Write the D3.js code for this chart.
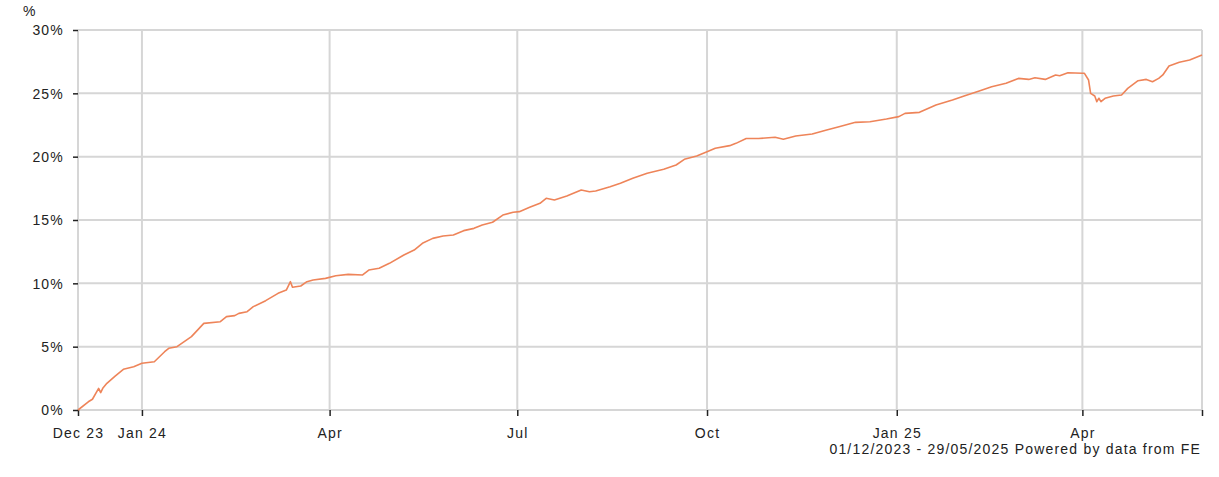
<!DOCTYPE html>
<html>
<head>
<meta charset="utf-8">
<script src="https://cdn.jsdelivr.net/npm/d3@7"></script>
<style>
  body { margin: 0; background: #fff; }
  text { font-family: "Liberation Sans", Arial, sans-serif; font-size: 14px; fill: #222; letter-spacing: 1.2px; }
</style>
</head>
<body>
<script>
// cumulative performance, %
var dates = ["2023-12-01","2023-12-06","2023-12-08","2023-12-11","2023-12-12","2023-12-13","2023-12-15","2023-12-19","2023-12-23","2023-12-28",
  "2024-01-01","2024-01-07","2024-01-12","2024-01-14","2024-01-18","2024-01-25","2024-01-31","2024-02-08","2024-02-11","2024-02-15",
  "2024-02-17","2024-02-21","2024-02-24","2024-03-01","2024-03-07","2024-03-11","2024-03-13","2024-03-14","2024-03-18","2024-03-21",
  "2024-03-24","2024-03-30","2024-04-04","2024-04-10","2024-04-17","2024-04-20","2024-04-25","2024-04-30","2024-05-07","2024-05-12",
  "2024-05-16","2024-05-21","2024-05-26","2024-05-31","2024-06-05","2024-06-10","2024-06-14","2024-06-19","2024-06-24","2024-06-29",
  "2024-07-02","2024-07-07","2024-07-12","2024-07-15","2024-07-19","2024-07-25","2024-08-01","2024-08-05","2024-08-08","2024-08-15",
  "2024-08-20","2024-08-26","2024-09-02","2024-09-10","2024-09-16","2024-09-20","2024-09-26","2024-10-01","2024-10-05","2024-10-12",
  "2024-10-15","2024-10-20","2024-10-26","2024-11-03","2024-11-07","2024-11-13","2024-11-21","2024-11-28","2024-12-04","2024-12-12",
  "2024-12-19","2024-12-27","2025-01-02","2025-01-05","2025-01-12","2025-01-20","2025-01-28","2025-02-03","2025-02-10","2025-02-16",
  "2025-02-23","2025-03-01","2025-03-06","2025-03-09","2025-03-14","2025-03-19","2025-03-21","2025-03-25","2025-04-01","2025-04-02",
  "2025-04-04","2025-04-05","2025-04-07","2025-04-08","2025-04-09","2025-04-10","2025-04-12","2025-04-16","2025-04-20","2025-04-23",
  "2025-04-28","2025-05-02","2025-05-05","2025-05-08","2025-05-10","2025-05-13","2025-05-18","2025-05-23","2025-05-29"];
var values = [0.0,0.65,0.85,1.71,1.37,1.71,2.11,2.68,3.21,3.42,
  3.69,3.81,4.60,4.87,5.00,5.79,6.84,6.97,7.37,7.45,
  7.63,7.76,8.16,8.63,9.21,9.47,10.13,9.69,9.79,10.13,
  10.26,10.39,10.60,10.71,10.66,11.05,11.19,11.58,12.24,12.63,
  13.16,13.55,13.74,13.82,14.16,14.34,14.61,14.82,15.39,15.61,
  15.66,16.00,16.32,16.71,16.58,16.89,17.37,17.23,17.29,17.63,
  17.90,18.29,18.69,19.00,19.34,19.79,20.05,20.39,20.66,20.87,
  21.05,21.43,21.43,21.53,21.37,21.63,21.79,22.10,22.37,22.71,
  22.76,22.97,23.16,23.42,23.50,24.08,24.47,24.81,25.18,25.52,
  25.79,26.18,26.10,26.23,26.10,26.45,26.39,26.63,26.58,26.58,
  26.05,25.00,24.79,24.34,24.61,24.34,24.61,24.79,24.87,25.39,
  26.00,26.10,25.92,26.18,26.45,27.16,27.45,27.63,28.03];

var xTickDates = ["2023-12-01","2024-01-01","2024-04-01","2024-07-01","2024-10-01","2025-01-01","2025-04-01","2025-05-29"];
var xTickLabels = ["Dec 23","Jan 24","Apr","Jul","Oct","Jan 25","Apr",""];
var yTicks = [0,5,10,15,20,25,30];
var footer = "01/12/2023 - 29/05/2025 Powered by data from FE";

var parse = d3.timeParse("%Y-%m-%d");
var data = dates.map(function(d,i){ return {date: parse(d), value: values[i]}; });
var tickDates = xTickDates.map(parse);

var plotLeft = 78, plotRight = 1202, plotTop = 30, plotBottom = 410;

var x = d3.scaleTime()
          .domain([parse("2023-12-01"), parse("2025-05-29")])
          .range([plotLeft, plotRight]);
var y = d3.scaleLinear().domain([0,30]).range([plotBottom, plotTop]);

var svg = d3.select("body").append("svg").attr("width",1219).attr("height",477);

// grid
svg.selectAll("line.hgrid")
    .data(yTicks)
    .enter().append("line")
      .attr("class","hgrid")
      .attr("x1",plotLeft).attr("x2",plotRight)
      .attr("y1",function(d){ return y(d); })
      .attr("y2",function(d){ return y(d); })
      .attr("stroke","#d6d6d6").attr("stroke-width",2);

svg.selectAll("line.vgrid")
    .data(tickDates)
    .enter().append("line")
      .attr("class","vgrid")
      .attr("x1",function(d){ return x(d); })
      .attr("x2",function(d){ return x(d); })
      .attr("y1",plotTop).attr("y2",plotBottom)
      .attr("stroke","#d6d6d6").attr("stroke-width",2);

// axes: ticks + labels only
var yAxis = d3.axisLeft(y).tickValues(yTicks).tickSize(5).tickPadding(9)
              .tickFormat(function(d){ return d + "%"; });
var gy = svg.append("g").attr("transform","translate(" + plotLeft + ",0)").call(yAxis);

var xAxis = d3.axisBottom(x).tickValues(tickDates).tickSize(6).tickPadding(12)
              .tickFormat(function(d,i){ return xTickLabels[i]; });
var gx = svg.append("g").attr("transform","translate(0," + plotBottom + ")").call(xAxis);

[gy, gx].forEach(function(g){
  g.select(".domain").remove();
  g.selectAll(".tick line").attr("stroke","#222").attr("stroke-width",1.5);
  g.selectAll(".tick text").attr("font-family",null).attr("font-size",null).attr("fill","#222");
});
gy.selectAll(".tick text").attr("dy","0.35em");

// series line
var line = d3.line()
             .x(function(d){ return x(d.date); })
             .y(function(d){ return y(d.value); });

svg.append("path")
    .datum(data)
    .attr("d", line)
    .attr("fill","none")
    .attr("stroke","#ee8459")
    .attr("stroke-width",1.6)
    .attr("stroke-linejoin","round");

// unit label + footer
svg.append("text").attr("x",23).attr("y",16).text("%");
svg.append("text")
    .attr("x",1201).attr("y",454)
    .attr("text-anchor","end")
    .text(footer);
</script>
</body>
</html>
